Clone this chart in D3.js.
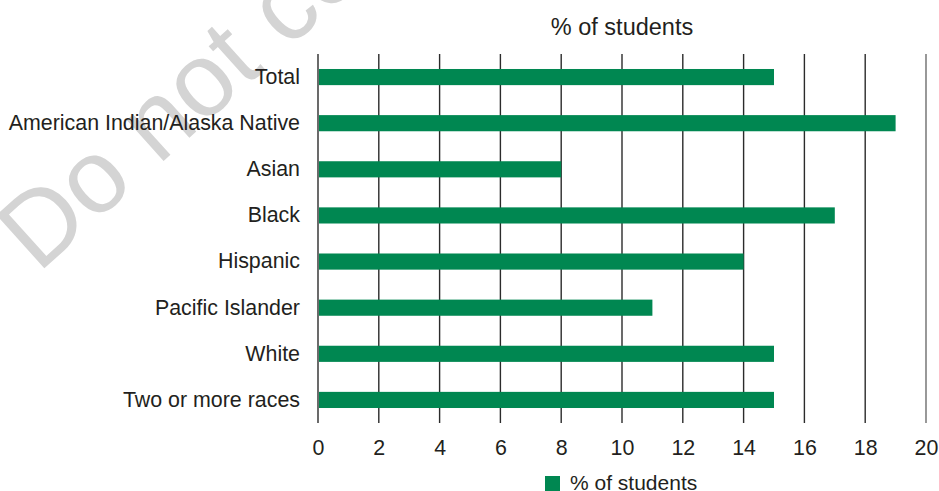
<!DOCTYPE html>
<html>
<head>
<meta charset="utf-8">
<script src="https://cdn.jsdelivr.net/npm/d3@7"></script>
<style>
  html, body { margin: 0; padding: 0; background: #fff; }
  svg text { font-family: "Liberation Sans", Arial, Helvetica, sans-serif; fill: #231f20; }
</style>
</head>
<body>
<svg id="chart" width="939" height="491"></svg>
<script>
const categories = ["Total", "American Indian/Alaska Native", "Asian", "Black", "Hispanic", "Pacific Islander", "White", "Two or more races"];
const values = [15, 19, 8, 17, 14, 11, 15, 15];
const tickValues = [0, 2, 4, 6, 8, 10, 12, 14, 16, 18, 20];
const seriesName = "% of students";
const watermark = "Do not copy";

const svg = d3.select("#chart");
const W = 939, H = 491;
const margin = { left: 318, right: 13, top: 54, bottom: 68 };
const x = d3.scaleLinear().domain([0, 20]).range([margin.left, W - margin.right]);
const y = d3.scaleBand().domain(categories).range([margin.top, H - margin.bottom])
  .paddingInner(0.65).paddingOuter(0.325);

// watermark
svg.append("text")
  .attr("transform", "translate(38,274) rotate(-42)")
  .attr("font-size", 104)
  .style("fill", "#d4d4d4")
  .text(watermark);

// gridlines
svg.append("g").selectAll("line").data(tickValues).join("line")
  .attr("x1", d => x(d)).attr("x2", d => x(d))
  .attr("y1", margin.top).attr("y2", H - margin.bottom)
  .attr("stroke", (d, i) => i === tickValues.length - 1 ? "#6d6d6d" : "#2b2b2b")
  .attr("stroke-width", 1.4);

// bars
svg.append("g").selectAll("rect").data(categories).join("rect")
  .attr("x", x(0) + 1)
  .attr("y", d => y(d))
  .attr("width", (d, i) => x(values[i]) - x(0) - 1)
  .attr("height", y.bandwidth())
  .attr("fill", "#008751");

// category labels
const yAxis = d3.axisLeft(y).tickSize(0).tickPadding(18);
const ya = svg.append("g").attr("transform", `translate(${x(0)},0)`).call(yAxis);
ya.select(".domain").remove();
ya.selectAll("text").attr("font-size", 21.4).attr("font-family", null).style("fill", "#231f20");

// x tick labels
const xAxis = d3.axisBottom(x).tickValues(tickValues).tickSize(0).tickPadding(16.5);
const xa = svg.append("g").attr("transform", `translate(0,${H - margin.bottom})`).call(xAxis);
xa.select(".domain").remove();
xa.selectAll("text").attr("font-size", 21.4).attr("font-family", null).style("fill", "#231f20");

// title
svg.append("text")
  .attr("x", (x(0) + x(20)) / 2)
  .attr("y", 35)
  .attr("text-anchor", "middle")
  .attr("font-size", 23.5)
  .text(seriesName);

// legend
const lg = svg.append("g").attr("transform", "translate(545,476)");
lg.append("rect").attr("width", 15).attr("height", 15).attr("fill", "#008751");
lg.append("text").attr("x", 25).attr("y", 13.5).attr("font-size", 21).text(seriesName);
</script>
</body>
</html>
